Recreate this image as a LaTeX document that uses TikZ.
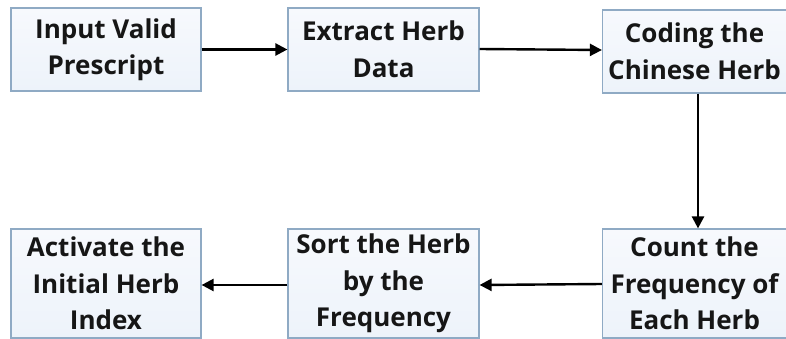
\documentclass[tikz,border=0pt]{standalone}
\usepackage{fontspec}
\setmainfont{Open Sans}
\usetikzlibrary{arrows.meta}
\definecolor{boxline}{HTML}{8FAAC4}
\definecolor{boxtop}{HTML}{F7F9FD}
\definecolor{boxbot}{HTML}{EDF3FA}
\definecolor{ink}{HTML}{161616}
\tikzset{
  stepbox/.style={draw=boxline, line width=1.2pt, top color=boxtop, bottom color=boxbot,
    align=center, inner sep=0pt, text=ink,
    font=\fontsize{26}{36.5}\selectfont\bfseries},
  flow/.style={draw=black, line width=2.4pt, -{Triangle[length=12pt,width=12pt]}}
}
\begin{document}
\begin{tikzpicture}[x=1pt,y=-1pt]
  \useasboundingbox (0,0) rectangle (786,339);
  % top row
  \node[stepbox, minimum width=190pt, minimum height=83pt] (input) at (106,49.5) {Input Valid\\Prescript};
  \node[stepbox, minimum width=191pt, minimum height=83pt] (extract) at (383.5,49.5) {Extract Herb\\Data};
  \node[stepbox, minimum width=184pt, minimum height=83pt] (coding) at (694.5,51.5) {Coding the\\Chinese Herb};
  % bottom row
  \node[stepbox, minimum width=190pt, minimum height=109pt] (activate) at (106,283.5) {Activate the\\Initial Herb\\Index};
  \node[stepbox, minimum width=191pt, minimum height=109pt] (sort) at (383.5,283.5) {Sort the Herb\\by the\\Frequency};
  \node[stepbox, minimum width=184pt, minimum height=109pt] (count) at (694.5,283.5) {Count the\\Frequency of\\Each Herb};
  % connectors
  \draw[flow] (input.east) -- (extract.west);
  \draw[flow] ([yshift=0.5pt]extract.east) -- ([yshift=1.5pt]coding.west);
  \draw[flow] ([xshift=3.5pt]coding.south) -- ([xshift=3.5pt]count.north);
  \draw[flow] ([yshift=-0.5pt]count.west) -- ([yshift=-1.5pt]sort.east);
  \draw[flow] ([yshift=-1.5pt]sort.west) -- ([yshift=-1.5pt]activate.east);
\end{tikzpicture}
\end{document}
